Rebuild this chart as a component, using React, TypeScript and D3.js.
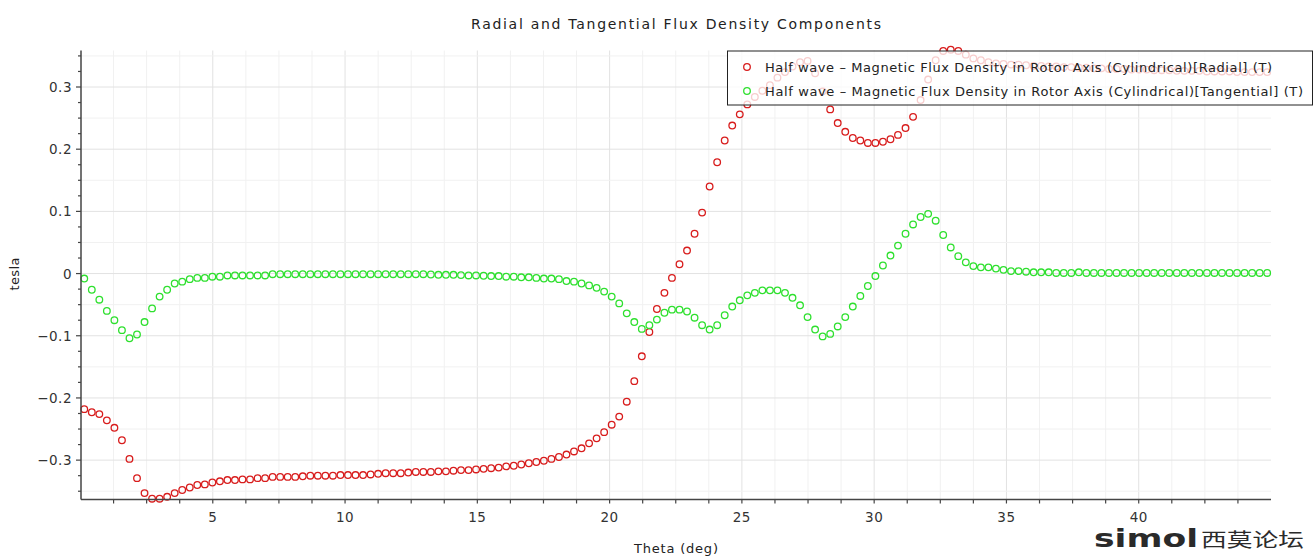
import React from 'react';
import * as d3 from 'd3';

const TITLE = 'Radial and Tangential Flux Density Components';
const X_LABEL = 'Theta (deg)';
const Y_LABEL = 'tesla';
const SERIES_NAMES = [
  'Half wave \u2013 Magnetic Flux Density in Rotor Axis (Cylindrical)[Radial] (T)',
  'Half wave \u2013 Magnetic Flux Density in Rotor Axis (Cylindrical)[Tangential] (T)',
];
const SERIES_COLORS = ['#d81c1c', '#2ee02e'];

const THETA_START = 0.1424;
const THETA_STEP = 0.2848;

const radial = [
  -0.218, -0.223, -0.226, -0.236, -0.248, -0.268, -0.298, -0.329, -0.353, -0.362,
  -0.362, -0.359, -0.353, -0.348, -0.344, -0.340, -0.339, -0.336, -0.334, -0.332,
  -0.332, -0.331, -0.331, -0.329, -0.329, -0.327, -0.327, -0.327, -0.327, -0.326,
  -0.325, -0.325, -0.325, -0.325, -0.324, -0.324, -0.324, -0.324, -0.323, -0.322,
  -0.321, -0.321, -0.321, -0.320, -0.319, -0.319, -0.319, -0.318, -0.318, -0.317,
  -0.316, -0.316, -0.315, -0.314, -0.313, -0.312, -0.310, -0.309, -0.307, -0.305,
  -0.303, -0.301, -0.298, -0.295, -0.291, -0.286, -0.281, -0.273, -0.265, -0.255,
  -0.243, -0.230, -0.206, -0.173, -0.133, -0.094, -0.057, -0.031, -0.007, 0.015,
  0.037, 0.064, 0.098, 0.140, 0.179, 0.214, 0.238, 0.256, 0.272, 0.284,
  0.294, 0.303, 0.315, 0.324, 0.333, 0.340, 0.342, 0.322, 0.293, 0.264,
  0.242, 0.228, 0.218, 0.214, 0.210, 0.210, 0.212, 0.216, 0.223, 0.234,
  0.252, 0.279, 0.312, 0.343, 0.358, 0.360, 0.358, 0.352, 0.346, 0.343,
  0.340, 0.338, 0.337, 0.336, 0.336, 0.335, 0.334, 0.334, 0.333, 0.333,
  0.332, 0.332, 0.331, 0.331, 0.330, 0.330, 0.329, 0.329, 0.329, 0.328,
  0.328, 0.328, 0.327, 0.327, 0.327, 0.326, 0.326, 0.326, 0.326, 0.325,
  0.325, 0.325, 0.325, 0.324, 0.324, 0.324, 0.324, 0.324,
];

const tangential = [
  -0.008, -0.026, -0.042, -0.060, -0.075, -0.091, -0.104, -0.098, -0.078, -0.056,
  -0.037, -0.026, -0.016, -0.013, -0.009, -0.007, -0.007, -0.005, -0.005, -0.003,
  -0.003, -0.003, -0.003, -0.003, -0.003, -0.001, -0.001, -0.001, -0.001, -0.001,
  -0.001, -0.001, -0.001, -0.001, -0.001, -0.001, -0.001, -0.001, -0.001, -0.001,
  -0.001, -0.001, -0.001, -0.001, -0.001, -0.001, -0.0015, -0.002, -0.002, -0.002,
  -0.0025, -0.003, -0.003, -0.0035, -0.004, -0.004, -0.005, -0.005, -0.006, -0.006,
  -0.007, -0.008, -0.008, -0.009, -0.012, -0.013, -0.016, -0.019, -0.023, -0.029,
  -0.037, -0.048, -0.064, -0.078, -0.089, -0.083, -0.074, -0.063, -0.058, -0.058,
  -0.061, -0.071, -0.083, -0.090, -0.083, -0.067, -0.053, -0.043, -0.035, -0.031,
  -0.027, -0.027, -0.027, -0.031, -0.039, -0.051, -0.070, -0.090, -0.101, -0.097,
  -0.085, -0.070, -0.053, -0.036, -0.020, -0.004, 0.013, 0.029, 0.045, 0.064,
  0.079, 0.091, 0.096, 0.085, 0.062, 0.042, 0.028, 0.018, 0.012, 0.010,
  0.010, 0.008, 0.006, 0.004, 0.004, 0.003, 0.002, 0.002, 0.002, 0.001,
  0.001, 0.001, 0.002, 0.001, 0.001, 0.001, 0.001, 0.001, 0.001, 0.001,
  0.001, 0.001, 0.001, 0.001, 0.001, 0.001, 0.001, 0.001, 0.001, 0.001,
  0.001, 0.001, 0.001, 0.001, 0.001, 0.001, 0.001, 0.001,
];

const X_TICKS = [5, 10, 15, 20, 25, 30, 35, 40];
const Y_TICKS = [-0.3, -0.2, -0.1, 0, 0.1, 0.2, 0.3];

const FONT = '"DejaVu Sans", "Liberation Sans", sans-serif';

export default function App() {
  const W = 1315;
  const H = 556;
  const left = 81;
  const right = 1271;
  const top = 50.5;
  const bottom = 499.5;

  const x = d3.scaleLinear().domain([0, 45]).range([80.5, 1271]);
  const y = d3.scaleLinear().domain([-0.3625, 0.3595]).range([499, 50]);

  const xMinor = d3.range(0, 36).map((i) => 1.25 * (i + 1)).filter((v) => v < 45);
  const yMinor = d3.range(-14, 15).map((i) => i * 0.025);
  const yGrid = d3.range(-7, 8).map((i) => i * 0.05);

  const series = [radial, tangential];
  const fmtY = (v: number) =>
    Math.abs(v) < 1e-9 ? '0' : (v < 0 ? '\u2212' : '') + d3.format('.1f')(Math.abs(v));

  return (
    <svg
      width={W}
      height={H}
      style={{ position: 'fixed', left: 0, top: 0, background: '#fff' }}
      fontFamily={FONT}
    >
      <rect x={0} y={0} width={W} height={H} fill="#fff" />
      {xMinor.map((v, i) => (
        <line key={'gx' + i} x1={x(v)} x2={x(v)} y1={top} y2={bottom}
          stroke={v % 5 === 0 ? '#e2e2e2' : '#f1f1f1'} strokeWidth={1} />
      ))}
      {yGrid.map((v, i) => (
        <line key={'gy' + i} x1={left} x2={right} y1={y(v)} y2={y(v)}
          stroke={Math.abs(v * 10 - Math.round(v * 10)) < 1e-6 ? '#e2e2e2' : '#f1f1f1'} strokeWidth={1} />
      ))}

      {series.map((s, si) => (
        <g key={'s' + si}>
          {s.map((v, i) => (
            <circle key={i} cx={x(THETA_START + THETA_STEP * i)} cy={y(v)} r={3.3}
              fill="none" stroke={SERIES_COLORS[si]} strokeWidth={1.3} />
          ))}
        </g>
      ))}

      <line x1={left} x2={left} y1={top} y2={bottom} stroke="#444" strokeWidth={1.5} />
      <line x1={left} x2={right} y1={bottom} y2={bottom} stroke="#444" strokeWidth={1.5} />
      {xMinor.map((v, i) => (
        <line key={'tx' + i} x1={x(v)} x2={x(v)} y1={bottom} y2={bottom + 4} stroke="#444" strokeWidth={1.2} />
      ))}
      {yMinor.map((v, i) => {
        const major = Math.abs(v * 10 - Math.round(v * 10)) < 1e-6;
        return (
          <line key={'ty' + i} x1={left - (major ? 5 : 3)} x2={left} y1={y(v)} y2={y(v)} stroke="#444" strokeWidth={1.2} />
        );
      })}
      {X_TICKS.map((v) => (
        <text key={'lx' + v} x={x(v)} y={522} textAnchor="middle" fontSize={13.5} fill="#333" letterSpacing={0.5}>
          {v}
        </text>
      ))}
      {Y_TICKS.map((v) => (
        <text key={'ly' + v} x={72} y={y(v) + 5} textAnchor="end" fontSize={13.5} fill="#333" letterSpacing={0.5}>
          {fmtY(v)}
        </text>
      ))}

      <text x={676} y={29} textAnchor="middle" fontSize={14} fill="#222" textLength={410} lengthAdjust="spacing">
        {TITLE}
      </text>
      <text x={676} y={553} textAnchor="middle" fontSize={13} fill="#222" textLength={84} lengthAdjust="spacing">
        {X_LABEL}
      </text>
      <text transform="translate(19,274) rotate(-90)" textAnchor="middle" fontSize={13} fill="#222" textLength={33} lengthAdjust="spacing">
        {Y_LABEL}
      </text>

      <rect x={727.5} y={51} width={585} height={54} fill="#fff" fillOpacity={0.78} stroke="#222" strokeWidth={1} />
      {SERIES_NAMES.map((name, i) => (
        <g key={'lg' + i}>
          <circle cx={747} cy={67 + i * 24} r={3.3} fill="none" stroke={SERIES_COLORS[i]} strokeWidth={1.3} />
          <text x={765} y={71.5 + i * 24} fontSize={13} fill="#222" textLength={i === 0 ? 507 : 538} lengthAdjust="spacing">
            {name}
          </text>
        </g>
      ))}

      <text x={1094} y={547} fontSize={25} fontWeight="bold" fill="#2a2a2a" textLength={104} lengthAdjust="spacingAndGlyphs">
        simol
      </text>
      <text x={1201} y={547} fontSize={19} fontFamily='"Noto Sans CJK SC", sans-serif' fill="#2a2a2a" textLength={103} lengthAdjust="spacingAndGlyphs">
        西莫论坛
      </text>
    </svg>
  );
}
